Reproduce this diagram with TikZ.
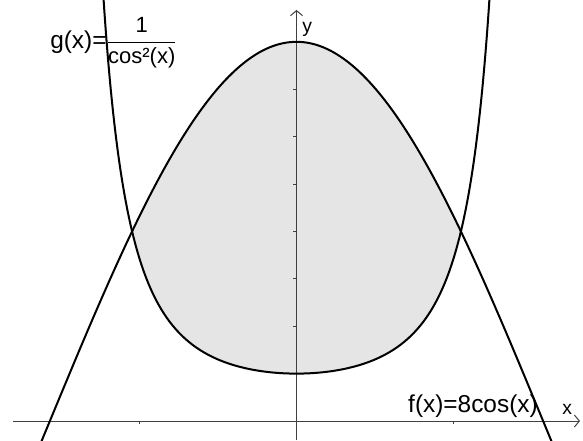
\documentclass[tikz,border=0pt]{standalone}
\usepackage{amsmath}
\usepackage{fontspec}
\setmainfont{Liberation Sans}
\usetikzlibrary{arrows.meta}

\newcommand{\fracpart}[1]{\text{\fontsize{16.5}{20}\selectfont #1}}

\begin{document}
\begin{tikzpicture}[
    x=117.75pt, y=35.55pt,
    axis/.style={draw=black!75, line width=0.75pt, -{Straight Barb[length=3.75pt, width=9pt]}},
    axistick/.style={draw=black!75, line width=0.75pt},
    curve/.style={draw=black, line width=1.5pt, smooth, samples=200},
    region/.style={fill=black!10},
    lbl/.style={font=\fontsize{18.3}{22}\selectfont, inner sep=0pt, anchor=base west},
    axlbl/.style={font=\fontsize{14.5}{17}\selectfont, inner sep=0pt, anchor=base west}
]
\useasboundingbox (-1.8885,-0.4008) rectangle (1.8248,8.8819);
\clip (-1.8885,-0.4008) rectangle (1.8248,8.8819);

% Shaded area between the graphs
\fill[region] plot[domain=-1.0472:1.0472, samples=100, smooth] (\x,{8*cos(\x r)})
    -- plot[domain=1.0472:-1.0472, samples=100, smooth] (\x,{1/(cos(\x r))^2}) -- cycle;

% Axes and ticks
\draw[axis] (-1.806,0) -- (1.806,0);
\draw[axis] (0,-0.4008) -- (0,8.671);
\foreach \i in {-1,1}
    \draw[axistick] (\i,0) -- (\i,-0.063);
\foreach \j in {1,...,8}
    \draw[axistick] (0,\j) -- (-0.022,\j);

% Graphs
\draw[curve] plot[domain=-1.8885:1.8248] (\x,{8*cos(\x r)});
\draw[curve] plot[domain=-1.236:1.236] (\x,{1/(cos(\x r))^2});

% Labels
\node[lbl] (glabel) at (-1.570,7.869) {$\text{g(x)=}\dfrac{\fracpart{1}}{\fracpart{cos²(x)}}$};
\node[lbl] (flabel) at (0.710,0.190) {f(x)=8cos(x)};
\node[axlbl] (ylabel) at (0.035,8.186) {y};
\node[axlbl] (xlabel) at (1.691,0.127) {x};

\end{tikzpicture}
\end{document}
